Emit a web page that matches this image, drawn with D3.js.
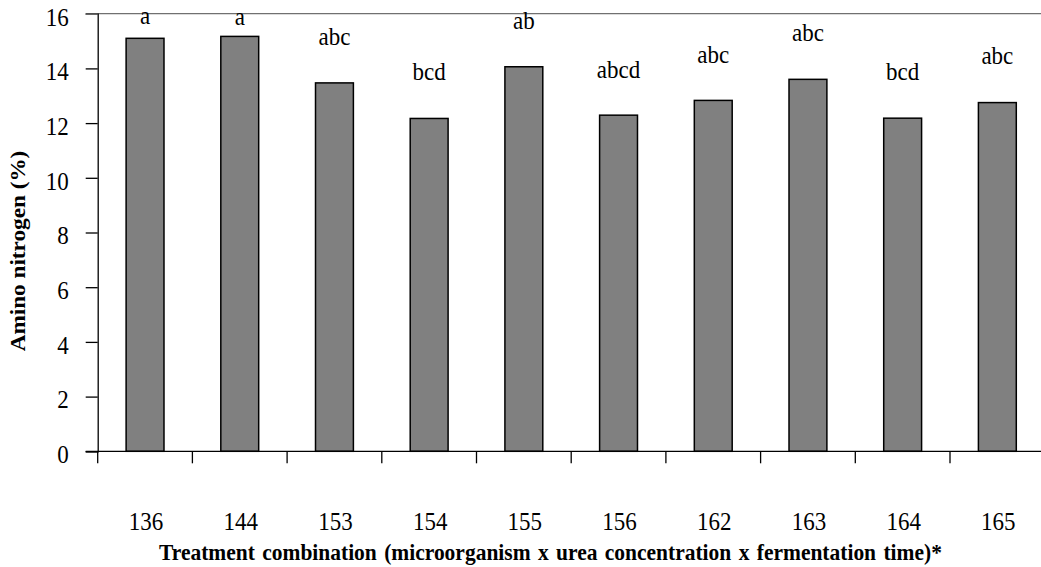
<!DOCTYPE html>
<html><head><meta charset="utf-8">
<script src="https://cdn.jsdelivr.net/npm/d3@7"></script>
<style>html,body{margin:0;padding:0;background:#fff;overflow:hidden}
svg text{font-family:"Liberation Serif","Times New Roman",Times,serif;fill:#000;}</style>
</head><body>
<script>
const categories = ["136","144","153","154","155","156","162","163","164","165"];
const values = [15.1, 15.17, 13.47, 12.17, 14.06, 12.29, 12.83, 13.6, 12.18, 12.75];
const letters = ["a","a","abc","bcd","ab","abcd","abc","abc","bcd","abc"];
const letterLevels = [15.64, 15.6, 14.84, 13.57, 15.45, 13.66, 14.21, 15.0, 13.57, 14.15];
const yTicks = [0,2,4,6,8,10,12,14,16];
const yTitle = "Amino nitrogen (%)";
const xTitle = "Treatment combination (microorganism x urea concentration x fermentation time)*";

(function(){
const W = 1041, H = 567;
const pL = 97.7, pR = 1044.7, pT = 13.7, pB = 451.3;
const vs = 1.08; // vertical stretch of glyphs seen in the reference

const svg = d3.select("body").append("svg").attr("width", W).attr("height", H);

const x = d3.scaleBand().domain(categories).range([pL, pR]).paddingInner(0.6).paddingOuter(0.3);
const xb = d3.scaleBand().domain(categories).range([pL, pR]);
const y = d3.scaleLinear().domain([0, 16]).range([pB, pT]);

// top border line
svg.append("line").attr("x1", pL - 12).attr("x2", pR).attr("y1", y(16)).attr("y2", y(16))
  .attr("stroke", "#707070").attr("stroke-width", 1.3);

// bars
svg.selectAll("rect.bar").data(values).join("rect").attr("class","bar")
  .attr("x", (d,i) => x(categories[i]))
  .attr("width", x.bandwidth())
  .attr("y", d => y(d))
  .attr("height", d => y(0) - y(d))
  .attr("fill", "#808080").attr("stroke", "#000").attr("stroke-width", 1.5);

// significance letters
svg.selectAll("text.let").data(letters).join("text").attr("class","let")
  .attr("transform", (d,i) => `translate(${xb(categories[i]) + xb.bandwidth()/2},${y(letterLevels[i])}) scale(1,${vs})`)
  .attr("text-anchor","middle")
  .attr("font-size", 23)
  .text(d => d);

// y axis
const yAxis = svg.append("g").attr("transform", `translate(${pL},0)`)
  .call(d3.axisLeft(y).tickValues(yTicks).tickSize(12).tickPadding(17).tickFormat(d3.format("d")));
yAxis.attr("font-family", null).attr("font-size", null);
yAxis.select(".domain").attr("stroke","#000").attr("stroke-width",1.3);
yAxis.selectAll(".tick line").attr("stroke","#000").attr("stroke-width",1.3);
yAxis.selectAll(".tick").filter(d => d === 16).select("line").attr("stroke","#707070");
yAxis.selectAll(".tick text")
  .attr("x", null).attr("dy", null)
  .attr("transform", `translate(-29,11.3) scale(1,${vs})`)
  .attr("font-size", 23);

// x axis baseline and ticks at category boundaries
svg.append("line").attr("x1", pL - 12).attr("x2", pR).attr("y1", y(0)).attr("y2", y(0))
  .attr("stroke","#000").attr("stroke-width",1.3);
svg.selectAll("line.xt").data(categories).join("line").attr("class","xt")
  .attr("x1", d => xb(d)).attr("x2", d => xb(d))
  .attr("y1", y(0)).attr("y2", y(0) + 12)
  .attr("stroke","#000").attr("stroke-width",1.3);
svg.selectAll("text.xl").data(categories).join("text").attr("class","xl")
  .attr("transform", d => `translate(${xb(d) + xb.bandwidth()/2 + 1},530) scale(1,${vs})`)
  .attr("text-anchor","middle")
  .attr("font-size", 23)
  .text(d => d);

// titles
svg.append("text").attr("transform", `translate(159,560) scale(1,${vs})`).attr("text-anchor","start")
  .attr("font-size", 21.5).attr("word-spacing", 2).attr("font-weight","bold").text(xTitle);
svg.append("text").attr("transform", `translate(25,251) rotate(-90) scale(${vs},1)`)
  .attr("text-anchor","middle")
  .attr("font-size", 21.5).attr("font-weight","bold").text(yTitle);
})();
</script>
</body></html>
